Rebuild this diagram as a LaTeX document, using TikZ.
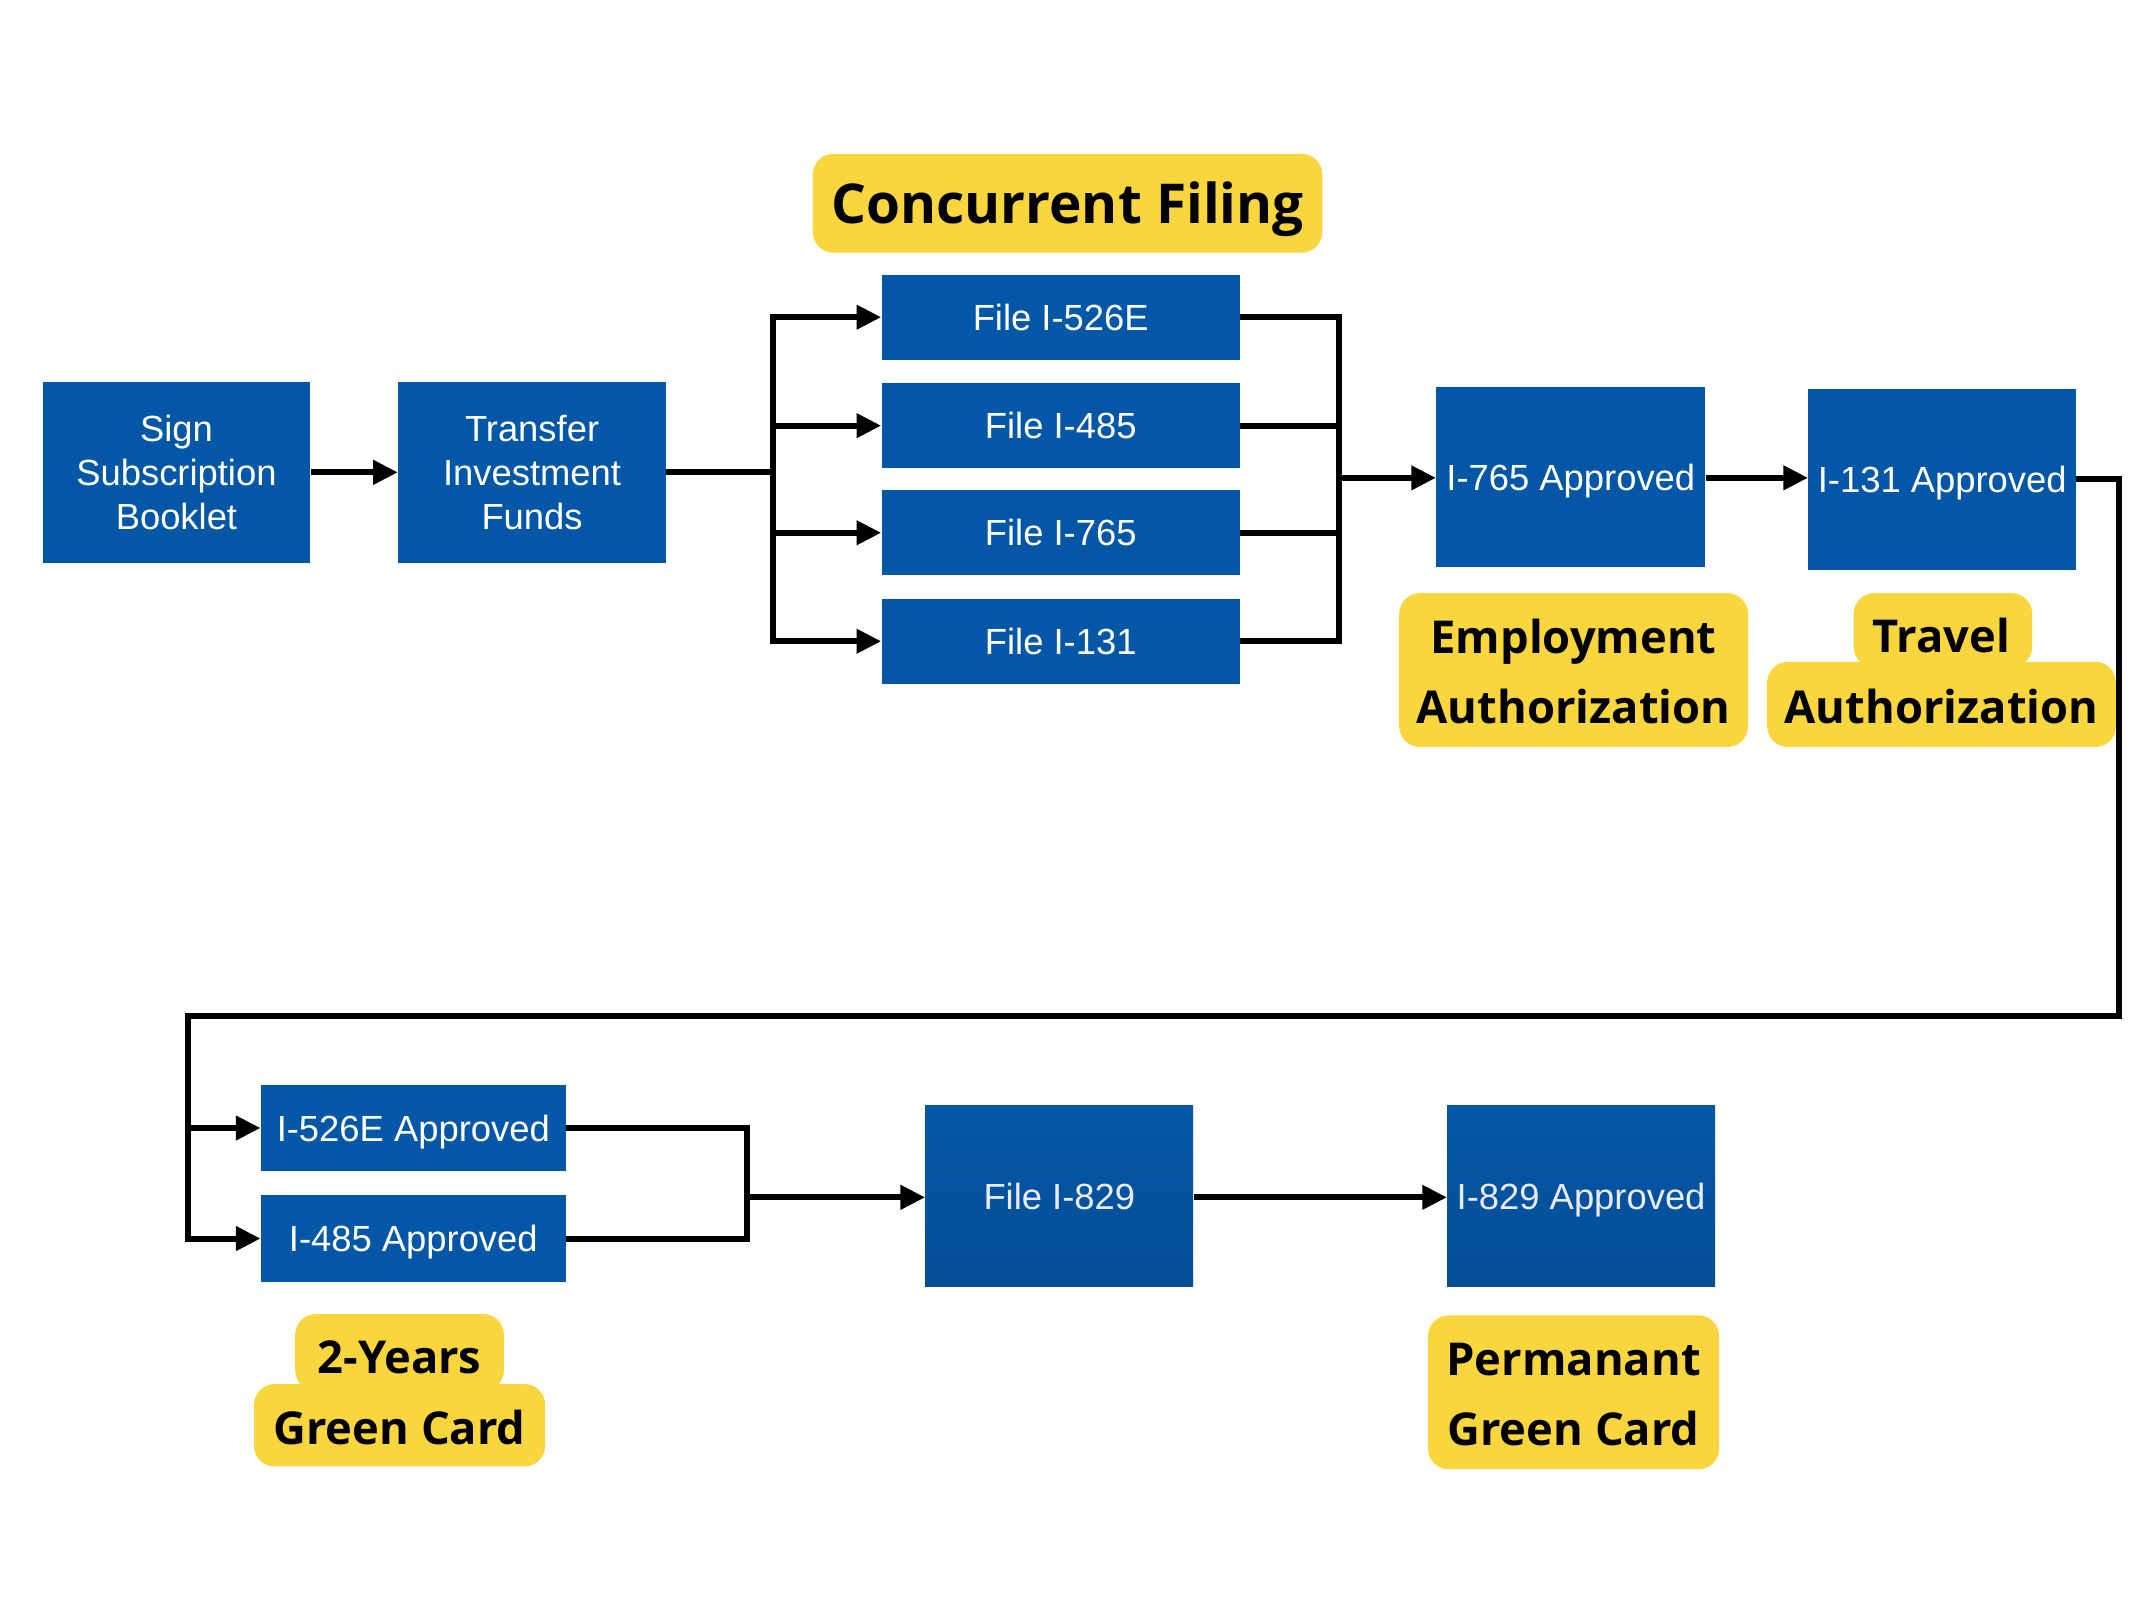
\documentclass[tikz,border=0pt]{standalone}
\usepackage{fontspec}
\setmainfont{Liberation Sans}
\newfontfamily\labfont{Open Sans}
\usetikzlibrary{arrows.meta}
\definecolor{boxblue}{RGB}{3,87,166}
\definecolor{boxbluedark}{RGB}{5,78,150}
\definecolor{labyellow}{RGB}{249,214,61}
\tikzset{
  bluebox/.style={fill=boxblue, text=white, font=\fontsize{26.5}{32}\selectfont, align=center, inner sep=0pt, text depth=0pt},
  darkbox/.style={bluebox, top color=boxblue, bottom color=boxbluedark, text={white!92!blue}},
  yelbox/.style={fill=labyellow, rounded corners=15pt, inner sep=0pt},
  labtext/.style={font=\labfont\bfseries\fontsize{33}{40}\selectfont, anchor=base, inner sep=0pt},
  conn/.style={line width=4.4pt, black},
  arr/.style={conn, -{Triangle[length=18pt,width=17pt]}},
}
\begin{document}
\begin{tikzpicture}[x=1pt,y=-1pt]
\useasboundingbox[fill=white] (0,0) rectangle (1568,1176);
% yellow shapes
\node[yelbox, minimum width=371pt, minimum height=72pt] (conc) at (777.5,148) {};
\node[yelbox, minimum width=254pt, minimum height=112pt] (emp) at (1146,488) {};
\node[yelbox, minimum width=130pt, minimum height=54pt] (travtop) at (1415,459) {};
\node[yelbox, minimum width=254pt, minimum height=62pt] (travbot) at (1414,513) {};
\node[yelbox, minimum width=152pt, minimum height=56pt] (yrtop) at (291,985) {};
\node[yelbox, minimum width=212pt, minimum height=60pt] (yrbot) at (291,1038) {};
\node[yelbox, minimum width=212pt, minimum height=112pt] (perm) at (1146,1014) {};
% yellow texts
\node[labtext, font=\labfont\bfseries\fontsize{40}{48}\selectfont] (tconc) at (777.5,163) {Concurrent Filing};
\node[labtext] (temp1) at (1146,476) {Employment};
\node[labtext] (temp2) at (1146,527) {Authorization};
\node[labtext] (ttrav1) at (1414,475) {Travel};
\node[labtext] (ttrav2) at (1414,527) {Authorization};
\node[labtext] (tyr1) at (291,1000) {2-Years};
\node[labtext] (tyr2) at (291,1052) {Green Card};
\node[labtext] (tperm1) at (1146,1002) {Permanant};
\node[labtext] (tperm2) at (1146,1053) {Green Card};
% blue boxes
\node[bluebox, minimum width=195pt, minimum height=132pt] (sign) at (128.5,344) {Sign\\Subscription\\Booklet};
\node[bluebox, minimum width=195pt, minimum height=132pt] (transfer) at (387.5,344) {Transfer\\Investment\\Funds};
\node[bluebox, minimum width=261pt, minimum height=62pt] (f1) at (772.5,231) {File I-526E};
\node[bluebox, minimum width=261pt, minimum height=62pt] (f2) at (772.5,310) {File I-485};
\node[bluebox, minimum width=261pt, minimum height=62pt] (f3) at (772.5,388) {File I-765};
\node[bluebox, minimum width=261pt, minimum height=62pt] (f4) at (772.5,467) {File I-131};
\node[bluebox, minimum width=196pt, minimum height=131pt] (a765) at (1144,347.5) {I-765 Approved};
\node[bluebox, minimum width=195pt, minimum height=132pt] (a131) at (1414.5,349) {I-131 Approved};
\node[bluebox, minimum width=222pt, minimum height=63pt] (a526) at (301,821.5) {I-526E Approved};
\node[bluebox, minimum width=222pt, minimum height=64pt] (a485) at (301,902) {I-485 Approved};
\node[darkbox, minimum width=195pt, minimum height=132pt] (f829) at (771.5,871) {File I-829};
\node[darkbox, minimum width=195pt, minimum height=132pt] (a829) at (1151.5,871) {I-829 Approved};
% coordinates
\coordinate (split) at (563,344);
\coordinate (merge) at (975,348);
\coordinate (down) at (1543,740);
\coordinate (back) at (137,740);
\coordinate (merge2) at (544,872);
% connectors
\draw[arr] (sign) -- (transfer);
\draw[conn] (transfer.east) -- (split);
\draw[conn, line cap=rect] (split |- f1) -- (split |- f4);
\foreach \n in {f1,f2,f3,f4} {
  \draw[arr] (split |- \n) -- (\n.west);
  \draw[conn] (\n.east) -- (merge |- \n);
}
\draw[conn, line cap=rect] (merge |- f1) -- (merge |- f4);
\draw[arr] (merge) -- (merge -| a765.west);
\draw[arr] (a765.east |- merge) -- (merge -| a131.west);
\draw[arr, line join=miter] (a131.east) -| (down) -- (back) |- (a485.west);
\draw[arr] (back |- a526) -- (a526.west);
\draw[conn, line join=miter] (a526.east) -| (merge2 |- a485) -- (a485.east);
\draw[arr] (merge2) -- (merge2 -| f829.west);
\draw[arr] (f829.east |- merge2) -- (merge2 -| a829.west);
\end{tikzpicture}
\end{document}
